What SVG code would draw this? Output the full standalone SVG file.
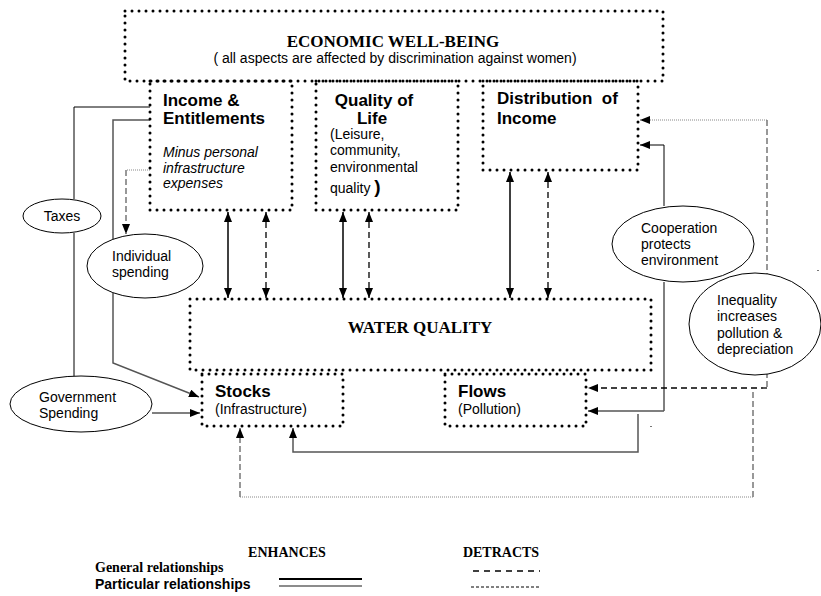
<svg xmlns="http://www.w3.org/2000/svg" width="821" height="596" viewBox="0 0 821 596">
<style>
.box{fill:none;stroke:#000;stroke-width:3;stroke-dasharray:0 7;stroke-linecap:round}
.ell{fill:#fff;stroke:#000;stroke-width:1}
.ln{fill:none;stroke:#000;stroke-width:1}
.ar{fill:none;stroke:#000;stroke-width:1.5}
.gr{fill:none;stroke:#555;stroke-width:1.5}
.dsh{fill:none;stroke:#000;stroke-width:1.3;stroke-dasharray:6 4}
.gdsh{fill:none;stroke:#777;stroke-width:1.5;stroke-dasharray:6 3}
.gdot{fill:none;stroke:#888;stroke-width:1;stroke-dasharray:1 1}
.tb{font-family:"Liberation Serif","Times New Roman",serif;font-weight:bold;font-size:17px}
.hb{font-family:"Liberation Sans",Arial,sans-serif;font-weight:bold;font-size:17px}
.h{font-family:"Liberation Sans",Arial,sans-serif;font-size:14px}
.hi{font-family:"Liberation Sans",Arial,sans-serif;font-size:14px;font-style:italic}
.lt{font-family:"Liberation Serif","Times New Roman",serif;font-weight:bold;font-size:14px}
.lh{font-family:"Liberation Sans",Arial,sans-serif;font-weight:bold;font-size:14px}
</style>
<defs>
<marker id="ah" viewBox="0 0 10 8" refX="10" refY="4" markerWidth="10" markerHeight="8" markerUnits="userSpaceOnUse" orient="auto-start-reverse">
<path d="M0,0 L10,4 L0,8 z" fill="#000"/>
</marker>
</defs>
<rect width="821" height="596" fill="#fff"/>

<g id="connectors">
<!-- Taxes to Income and Government -->
<path class="ln" d="M74,199 V107 H150"/>
<path class="ln" d="M74,233 V376"/>
<!-- Income to Stocks -->
<path class="gr" d="M150,120 H113 V363 L199,397" marker-end="url(#ah)"/>
<!-- Income to Individual spending -->
<path class="gdot" d="M150,170 H126"/>
<path class="gdsh" d="M126,170 V234" marker-end="url(#ah)"/>
<!-- Government spending to Stocks -->
<path class="gr" d="M152,413 H200" marker-end="url(#ah)"/>
<!-- vertical double arrows -->
<path class="ar" d="M228,212 V298" marker-start="url(#ah)" marker-end="url(#ah)"/>
<path class="dsh" d="M266,212 V298" marker-start="url(#ah)" marker-end="url(#ah)"/>
<path class="ar" d="M343,212 V298" marker-start="url(#ah)" marker-end="url(#ah)"/>
<path class="dsh" d="M369,212 V298" marker-start="url(#ah)" marker-end="url(#ah)"/>
<path class="ar" d="M510,172 V298" marker-start="url(#ah)" marker-end="url(#ah)"/>
<path class="dsh" d="M548,172 V298" marker-start="url(#ah)" marker-end="url(#ah)"/>
<!-- Cooperation -->
<path class="ln" d="M664,206 V145 H640" marker-end="url(#ah)"/>
<path class="ln" d="M664,282 V411"/>
<path class="gr" d="M664,411 H588" marker-end="url(#ah)"/>
<!-- Inequality -->
<path class="gdot" d="M767,120 H640" marker-end="url(#ah)"/>
<path class="gdsh" d="M767,120 V388"/>
<path class="dsh" d="M767,388 H588" marker-end="url(#ah)"/>
<path class="gdsh" d="M753,392 V497"/>
<path class="gdot" d="M753,497 H240"/>
<path class="gdsh" d="M240,497 V428" marker-end="url(#ah)"/>
<!-- Flows to Stocks -->
<path class="gr" d="M638,414 V452 H293 V428" marker-end="url(#ah)"/>
<rect x="650" y="426" width="2" height="1" fill="#777"/>
<rect x="817" y="270" width="2" height="1" fill="#777"/>
</g>

<g id="economic-well-being">
<rect class="box" x="125" y="11" width="538" height="70"/>
<text class="tb" x="393" y="47" text-anchor="middle">ECONOMIC WELL-BEING</text>
<text class="h" x="395" y="63" text-anchor="middle">( all aspects are affected by discrimination against women)</text>
</g>

<g id="income">
<rect class="box" x="150" y="81" width="142" height="129"/>
<text class="hb" x="163" y="106">Income &amp;</text>
<text class="hb" x="163" y="124">Entitlements</text>
<text class="hi" x="163" y="157">Minus personal</text>
<text class="hi" x="163" y="173">infrastructure</text>
<text class="hi" x="163" y="188">expenses</text>
</g>

<g id="quality-of-life">
<rect class="box" x="316" y="81" width="142" height="129"/>
<text class="hb" x="374" y="106" text-anchor="middle">Quality of</text>
<text class="hb" x="372" y="124" text-anchor="middle">Life</text>
<text class="h" x="330" y="139">(Leisure,</text>
<text class="h" x="330" y="155">community,</text>
<text class="h" x="330" y="172">environmental</text>
<text class="h" x="330" y="193">quality <tspan font-weight="bold" font-size="19">)</tspan></text>
</g>

<g id="distribution">
<rect class="box" x="483" y="81" width="155" height="89"/>
<text class="hb" x="497" y="104" xml:space="preserve">Distribution  of</text>
<text class="hb" x="497" y="124">Income</text>
</g>

<g id="water-quality">
<rect class="box" x="190" y="299" width="461" height="71"/>
<text class="tb" x="420" y="333" text-anchor="middle">WATER QUALITY</text>
</g>

<g id="stocks">
<rect class="box" x="202" y="374" width="141" height="52"/>
<text class="hb" x="215" y="397">Stocks</text>
<text class="h" x="215" y="414">(Infrastructure)</text>
</g>

<g id="flows">
<rect class="box" x="445" y="374" width="141" height="52"/>
<text class="hb" x="458" y="397">Flows</text>
<text class="h" x="458" y="414">(Pollution)</text>
</g>

<g id="taxes">
<ellipse class="ell" cx="62" cy="216" rx="39" ry="17"/>
<text class="h" x="62" y="221" text-anchor="middle">Taxes</text>
</g>

<g id="individual-spending">
<ellipse class="ell" cx="145" cy="266" rx="58" ry="32"/>
<text class="h" x="112" y="261">Individual</text>
<text class="h" x="112" y="277">spending</text>
</g>

<g id="government-spending">
<ellipse class="ell" cx="81" cy="404" rx="71" ry="28"/>
<text class="h" x="39" y="402">Government</text>
<text class="h" x="39" y="418">Spending</text>
</g>

<g id="cooperation">
<ellipse class="ell" cx="683" cy="244" rx="71" ry="38"/>
<text class="h" x="641" y="233">Cooperation</text>
<text class="h" x="641" y="249">protects</text>
<text class="h" x="641" y="265">environment</text>
</g>

<g id="inequality">
<ellipse class="ell" cx="755" cy="324" rx="66" ry="51"/>
<text class="h" x="717" y="305">Inequality</text>
<text class="h" x="717" y="321">increases</text>
<text class="h" x="717" y="338">pollution &amp;</text>
<text class="h" x="717" y="354">depreciation</text>
</g>

<g id="legend">
<text class="lt" x="287" y="557" text-anchor="middle">ENHANCES</text>
<text class="lt" x="501" y="557" text-anchor="middle">DETRACTS</text>
<text class="lt" x="95" y="572">General relationships</text>
<text class="lh" x="95" y="589">Particular relationships</text>
<line x1="279" y1="579" x2="362" y2="579" stroke="#000" stroke-width="1.8"/>
<line x1="279" y1="586" x2="362" y2="586" stroke="#666" stroke-width="1.5"/>
<line x1="473" y1="571" x2="540" y2="571" stroke="#000" stroke-width="1.3" stroke-dasharray="6 5"/>
<line x1="471" y1="587" x2="540" y2="587" stroke="#000" stroke-width="1" stroke-dasharray="3 2"/>
</g>
</svg>
